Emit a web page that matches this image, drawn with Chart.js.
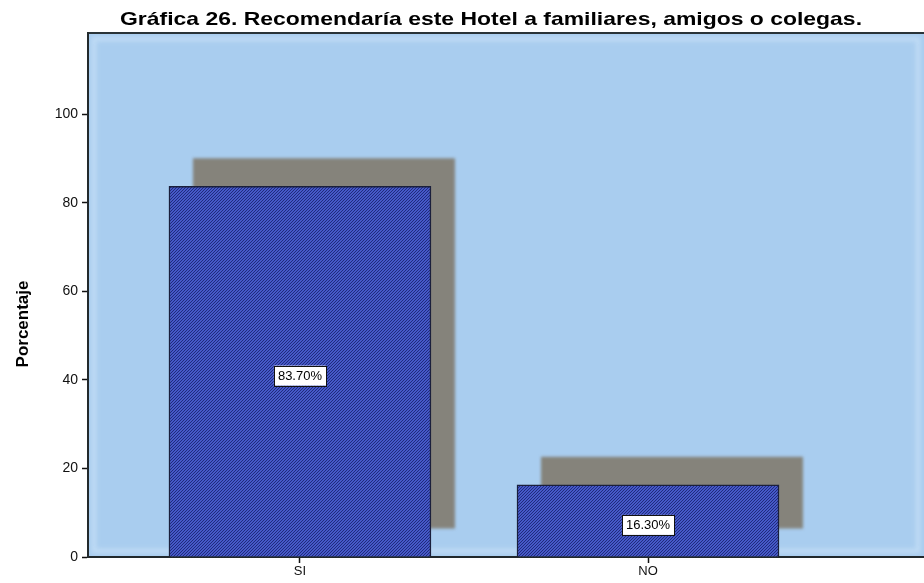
<!DOCTYPE html>
<html>
<head>
<meta charset="utf-8">
<script src="https://cdn.jsdelivr.net/npm/chart.js@4"></script>
<style>
  html, body { margin: 0; padding: 0; background: #fff; overflow: hidden; }
  #wrap { width: 924px; height: 583px; position: relative; }
</style>
</head>
<body>
<div id="wrap"><canvas id="grafica"></canvas></div>
<script>
const titulo = 'Gráfica 26. Recomendaría este Hotel a familiares, amigos o colegas.';
const categorias = ['SI', 'NO'];
const porcentajes = [83.7, 16.3];
const ticksY = [0, 20, 40, 60, 80, 100];

// dotted dark blue fill like the SPSS bars
function patronBarra() {
    let c = document.createElement('canvas');
    c.width = 3;
    c.height = 3;
    let g = c.getContext('2d');
    g.fillStyle = '#4659c8';
    g.fillRect(0, 0, 3, 3);
    g.fillStyle = '#1f2b7e';
    g.fillRect(0, 0, 1, 1);
    g.fillRect(2, 1, 1, 1);
    g.fillRect(1, 2, 1, 1);
    return g.createPattern(c, 'repeat');
}

const fondoPlugin = {
    id: 'fondo',
    beforeDraw(chart) {
        let { ctx, chartArea: a } = chart;
        ctx.save();
        ctx.fillStyle = '#a9cdef';
        ctx.fillRect(a.left, a.top, a.right - a.left, a.bottom - a.top);
        ctx.filter = 'blur(2px)';
        ctx.strokeStyle = 'rgba(196,222,246,0.8)';
        ctx.lineWidth = 5;
        ctx.strokeRect(a.left + 6, a.top + 6, a.right - a.left - 12, a.bottom - a.top - 12);
        ctx.filter = 'none';
        ctx.strokeStyle = '#2a3438';
        ctx.lineWidth = 2;
        ctx.beginPath();
        ctx.moveTo(a.left, a.top);
        ctx.lineTo(a.right, a.top);
        ctx.stroke();

        // title
        ctx.fillStyle = '#000';
        ctx.font = 'bold 19px "Liberation Sans", Arial, sans-serif';
        ctx.textBaseline = 'alphabetic';
        let w = ctx.measureText(titulo).width;
        let target = 742;
        ctx.translate(120, 25);
        ctx.scale(target / w, 1);
        ctx.fillText(titulo, 0, 0);
        ctx.restore();

        // y axis title
        ctx.save();
        ctx.translate(23, 324);
        ctx.rotate(-Math.PI / 2);
        ctx.font = 'bold 17px "Liberation Sans", Arial, sans-serif';
        ctx.fillStyle = '#000';
        ctx.textAlign = 'center';
        ctx.textBaseline = 'middle';
        ctx.fillText('Porcentaje', 0, 0);
        ctx.restore();
    },
    beforeDatasetsDraw(chart) {
        // grey drop shadow behind each bar
        let { ctx } = chart;
        ctx.save();
        ctx.filter = 'blur(1.5px)';
        chart.getDatasetMeta(0).data.forEach(bar => {
            let half = bar.width / 2;
            ctx.fillStyle = '#85837b';
            ctx.fillRect(bar.x - half + 24, bar.y - 28, bar.width, bar.base - bar.y);
        });
        ctx.restore();
    },
    afterDatasetsDraw(chart) {
        let { ctx } = chart;
        let yScale = chart.scales.y;
        ctx.save();
        ctx.font = '13px "Liberation Sans", Arial, sans-serif';
        ctx.textAlign = 'center';
        ctx.textBaseline = 'middle';
        chart.getDatasetMeta(0).data.forEach((bar, i) => {
            let v = porcentajes[i];
            let txt = v.toFixed(2) + '%';
            let y = yScale.getPixelForValue(v / 2) + 4;
            let w = ctx.measureText(txt).width + 8;
            ctx.fillStyle = '#fff';
            ctx.fillRect(bar.x - w / 2, y - 10, w, 20);
            ctx.strokeStyle = '#111';
            ctx.lineWidth = 1;
            ctx.strokeRect(Math.round(bar.x - w / 2) + 0.5, Math.round(y - 10) + 0.5, Math.round(w), 20);
            ctx.fillStyle = '#000';
            ctx.fillText(txt, bar.x, y + 1);
        });
        ctx.restore();
    }
};

new Chart(document.getElementById('grafica'), {
    type: 'bar',
    data: {
        datasets: [{
            data: porcentajes.map((v, i) => ({ x: i, y: v })),
            backgroundColor: patronBarra(),
            borderColor: '#1a1f3c',
            borderWidth: 1.5,
            barThickness: 262
        }]
    },
    options: {
        responsive: true,
        maintainAspectRatio: false,
        animation: false,
        layout: { padding: { top: 33, left: 0, right: 0, bottom: 0 } },
        plugins: {
            legend: { display: false },
            tooltip: { enabled: false },
            title: { display: false }
        },
        scales: {
            x: {
                type: 'linear',
                offset: false,
                min: -0.609,
                max: 1.793,
                afterBuildTicks: scale => {
                    scale.ticks = categorias.map((c, i) => ({ value: i }));
                },
                afterFit: scale => { scale.height = 26; },
                ticks: {
                    callback: v => categorias[v] ?? '',
                    color: '#111',
                    padding: 1,
                    maxRotation: 0,
                    font: { family: '"Liberation Sans", Arial, sans-serif', size: 13 }
                },
                grid: { offset: false, drawOnChartArea: false, tickLength: 6, color: '#111', tickWidth: 1.5 },
                border: { color: '#22292c', width: 2 }
            },
            y: {
                min: 0,
                max: 118.3,
                afterBuildTicks: scale => {
                    scale.ticks = ticksY.map(v => ({ value: v }));
                },
                afterFit: scale => { scale.width = 88; },
                ticks: {
                    color: '#111',
                    padding: 4,
                    font: { family: '"Liberation Sans", Arial, sans-serif', size: 14 }
                },
                grid: { drawOnChartArea: false, tickLength: 6, color: '#111', tickWidth: 1.5 },
                border: { color: '#22292c', width: 2 }
            }
        }
    },
    plugins: [fondoPlugin]
});
</script>
</body>
</html>
